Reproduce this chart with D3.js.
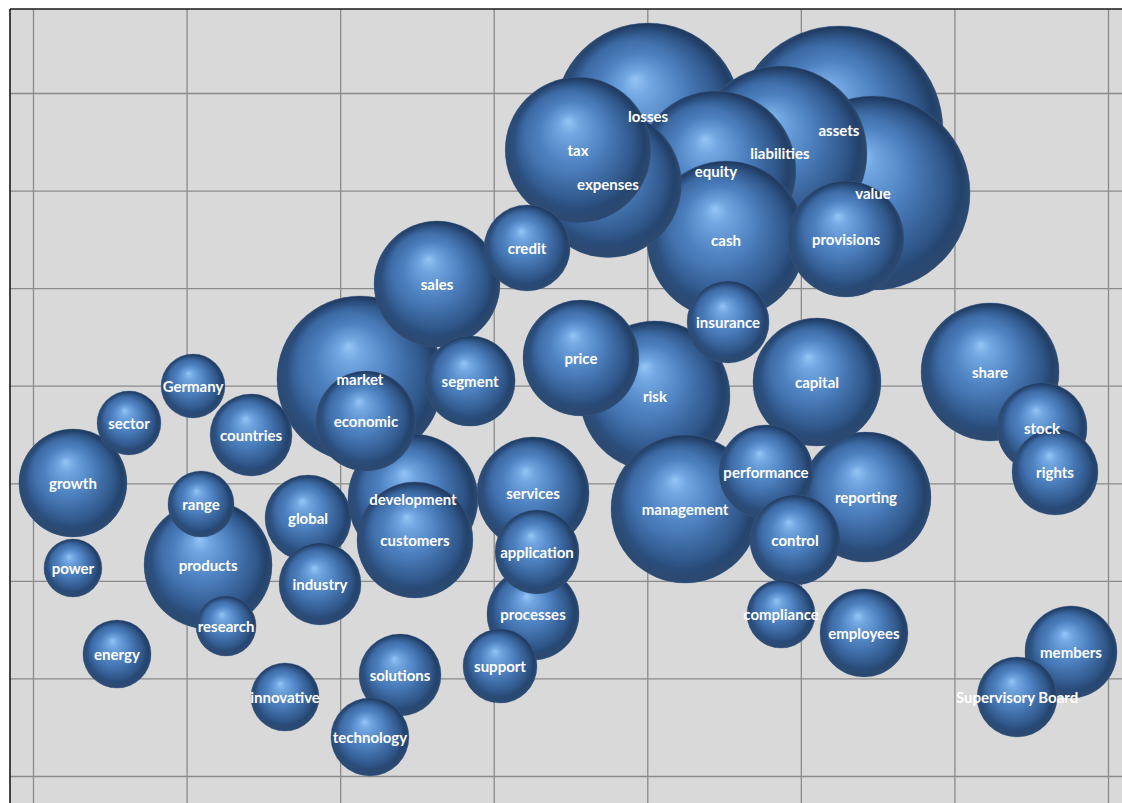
<!DOCTYPE html>
<html>
<head>
<meta charset="utf-8">
<script src="https://cdn.jsdelivr.net/npm/d3@7"></script>
<style>
  html, body { margin: 0; padding: 0; background: #ffffff; }
  svg { display: block; }
  .lbl { font-family: Lato, "Open Sans", sans-serif; font-weight: 700; font-size: 15px; fill: #ffffff; }
</style>
</head>
<body>
<svg id="chart" width="1122" height="803"></svg>
<script>
// ---- data ----
const words = ["losses","assets","value","liabilities","equity","cash","tax","expenses","provisions","credit",
  "sales","market","economic","segment","price","risk","insurance","capital","share","stock","rights",
  "Germany","sector","countries","growth","range","products","power","global","industry","development",
  "customers","services","application","management","performance","reporting","control","compliance",
  "employees","members","Supervisory Board","processes","support","energy","research","innovative",
  "solutions","technology"];
const xValues = [4.005,5.248,5.470,4.864,4.447,4.513,3.549,3.744,5.294,3.217,
  2.631,2.129,2.168,2.846,3.568,4.050,4.526,5.105,6.232,6.570,6.655,
  1.042,0.625,1.420,0.260,1.094,1.140,0.260,1.791,1.869,2.474,
  2.487,3.256,3.282,4.246,4.773,5.424,4.962,4.871,
  5.411,6.759,6.408,3.256,3.041,0.547,1.257,1.641,
  2.390,2.194];
const yValues = [6.764,6.621,5.975,6.385,6.201,5.494,6.416,6.067,5.504,5.412,
  5.043,4.069,3.638,4.048,4.284,3.895,4.653,4.038,4.141,3.567,3.116,
  3.997,3.618,3.495,3.003,2.788,2.163,2.132,2.644,1.968,2.839,
  2.419,2.900,2.296,2.736,3.116,2.859,2.419,1.660,
  1.466,1.271,0.810,1.660,1.127,1.250,1.537,0.810,
  1.035,0.400];
const sizes = [86.5,108.2,94.1,75.7,64.0,62.4,53.0,54.0,33.6,18.5,
  39.7,68.9,25.0,20.3,33.6,56.3,16.8,41.0,47.6,20.3,18.5,
  10.2,10.2,16.8,29.2,10.9,41.0,8.4,18.5,16.8,42.3,
  33.6,31.4,17.6,54.8,22.1,42.3,20.3,11.6,
  19.4,21.2,16.0,21.2,13.7,11.6,9.0,11.6,
  16.8,15.2];
const xTicks = [0,1,2,3,4,5,6,7];
const yTicks = [0,1,2,3,4,5,6,7];

// ---- layout ----
const W = 1122, H = 803;
const plotLeft = 10, plotTop = 9;
const svg = d3.select("#chart");

const x = d3.scaleLinear().domain([0, 7]).range([33, 1108]);
const y = d3.scaleLinear().domain([0, 7]).range([776, 93]);
const r = d3.scaleSqrt().domain([0, d3.max(sizes)]).range([0, 104]);

const defs = svg.append("defs");
const g1 = defs.append("radialGradient").attr("id","sphere")
  .attr("cx",0.5).attr("cy",0.5).attr("r",0.5).attr("fx",0.43).attr("fy",0.3);
[[0,"#95c5f5"],[0.14,"#72a7e2"],[0.45,"#4d80bf"],[0.78,"#3a67a1"],[0.93,"#2e5384"],[1,"#2a4b78"]]
  .forEach(s => g1.append("stop").attr("offset",s[0]).attr("stop-color",s[1]));
const g2 = defs.append("radialGradient").attr("id","shade")
  .attr("cx",0.5).attr("cy",0.5).attr("r",0.5).attr("fx",0.3).attr("fy",0.22);
[[0,"#08162c",0],[0.55,"#08162c",0],[0.85,"#08162c",0.2],[1,"#08162c",0.38]]
  .forEach(s => g2.append("stop").attr("offset",s[0]).attr("stop-color",s[1]).attr("stop-opacity",s[2]));
const g3 = defs.append("radialGradient").attr("id","rim")
  .attr("cx",0.5).attr("cy",0.5).attr("r",0.5).attr("fx",0.55).attr("fy",0.05);
[[0,"#7eaee6",0],[0.9,"#7eaee6",0],[1,"#7eaee6",0.3]]
  .forEach(s => g3.append("stop").attr("offset",s[0]).attr("stop-color",s[1]).attr("stop-opacity",s[2]));
defs.append("clipPath").attr("id","plotclip").append("rect")
  .attr("x",plotLeft).attr("y",plotTop).attr("width",W-plotLeft).attr("height",H-plotTop);

// background
svg.append("rect").attr("x",plotLeft).attr("y",plotTop).attr("width",W-plotLeft).attr("height",H-plotTop)
  .attr("fill","#d9d9d9");

// gridlines via axes
const gx = svg.append("g").attr("transform",`translate(0,${H})`)
  .call(d3.axisBottom(x).tickValues(xTicks).tickSize(-(H-plotTop)).tickFormat(""));
const gy = svg.append("g").attr("transform",`translate(${plotLeft},0)`)
  .call(d3.axisLeft(y).tickValues(yTicks).tickSize(-(W-plotLeft)).tickFormat(""));
[gx, gy].forEach(g => {
  g.select(".domain").remove();
  g.selectAll(".tick line").attr("stroke","#8a8a8a").attr("stroke-width",1.3);
});

// frame (top and left edges visible)
svg.append("line").attr("x1",plotLeft).attr("x2",W).attr("y1",plotTop).attr("y2",plotTop)
  .attr("stroke","#1a1a1a").attr("stroke-width",1.6);
svg.append("line").attr("x1",plotLeft).attr("x2",plotLeft).attr("y1",plotTop).attr("y2",H)
  .attr("stroke","#1a1a1a").attr("stroke-width",1.6);

// bubbles, larger ones behind
const data = words.map((w,i) => ({w, x:xValues[i], y:yValues[i], s:sizes[i]}))
  .sort((a,b) => b.s - a.s);

const bubbles = svg.append("g").attr("clip-path","url(#plotclip)")
  .selectAll("g.b").data(data).join("g").attr("class","b")
  .attr("transform", d => `translate(${x(d.x)},${y(d.y)})`);
bubbles.append("circle").attr("r", d => r(d.s)).attr("fill","url(#sphere)");
bubbles.append("circle").attr("r", d => r(d.s)).attr("fill","url(#rim)");
bubbles.append("circle").attr("r", d => r(d.s)).attr("fill","url(#shade)")
  .attr("stroke","#3a5c8c").attr("stroke-opacity",0.45).attr("stroke-width",0.7);

// labels on top
svg.append("g").selectAll("text").data(data).join("text")
  .attr("class","lbl")
  .attr("x", d => x(d.x)).attr("y", d => y(d.y))
  .attr("text-anchor","middle").attr("dominant-baseline","central")
  .text(d => d.w);
</script>
</body>
</html>
